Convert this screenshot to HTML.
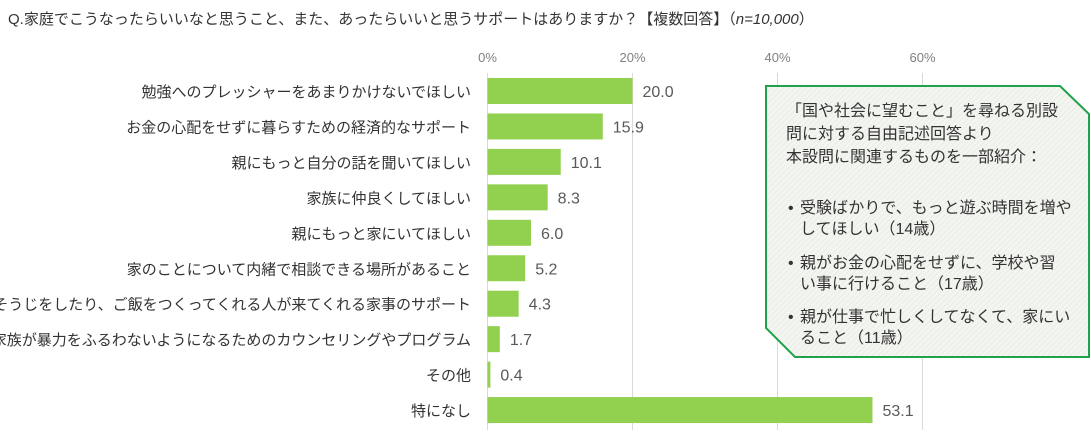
<!DOCTYPE html>
<html><head><meta charset="utf-8"><style>
body{margin:0;background:#fff;width:1091px;height:437px;overflow:hidden;font-family:"Liberation Sans","Noto Sans CJK JP",sans-serif;}
svg text{font-family:"Liberation Sans","Noto Sans CJK JP",sans-serif;}
</style></head><body>
<svg id="chart" width="1091" height="437">
<defs><pattern id="hatch" width="4" height="4" patternUnits="userSpaceOnUse" patternTransform="rotate(45)"><rect width="4" height="4" fill="#f3f5f0"/><line x1="0" y1="0" x2="0" y2="4" stroke="#e2e6dc" stroke-width="1"/></pattern></defs>
<text x="8" y="24" font-size="15" fill="#333">Q.家庭でこうなったらいいなと思うこと、また、あったらいいと思うサポートはありますか？【複数回答】（<tspan font-style="italic">n=10,000</tspan>）</text>
<g id="grid"></g><g id="bars"></g>
<g>
<polygon points="766,86 1060,86 1089,114 1089,357 795,357 766,328" fill="url(#hatch)" stroke="#22a04a" stroke-width="2"/>
<g font-size="16" fill="#333">
<text x="786" y="116">「国や社会に望むこと」を尋ねる別設</text>
<text x="786" y="139">問に対する自由記述回答より</text>
<text x="786" y="162">本設問に関連するものを一部紹介：</text>
<text x="788" y="213">•</text><text x="800" y="213">受験ばかりで、もっと遊ぶ時間を増や</text>
<text x="800" y="234">してほしい（14歳）</text>
<text x="788" y="268">•</text><text x="800" y="268">親がお金の心配をせずに、学校や習</text>
<text x="800" y="289">い事に行けること（17歳）</text>
<text x="788" y="322">•</text><text x="800" y="322">親が仕事で忙しくしてなくて、家にい</text>
<text x="800" y="343">ること（11歳）</text>
</g></g>
</svg>
<script>
const categories=["勉強へのプレッシャーをあまりかけないでほしい","お金の心配をせずに暮らすための経済的なサポート","親にもっと自分の話を聞いてほしい","家族に仲良くしてほしい","親にもっと家にいてほしい","家のことについて内緒で相談できる場所があること","そうじをしたり、ご飯をつくってくれる人が来てくれる家事のサポート","家族が暴力をふるわないようになるためのカウンセリングやプログラム","その他","特になし"];
const values=[20.0,15.9,10.1,8.3,6.0,5.2,4.3,1.7,0.4,53.1];
const ticks=[0,20,40,60];
const NS="http://www.w3.org/2000/svg";
const x=v=>487.5+v*7.25;
const y=i=>91+i*35.45;
function mk(t,a,p){const e=document.createElementNS(NS,t);for(const k in a)e.setAttribute(k,a[k]);p.appendChild(e);return e;}
const g=document.getElementById('grid'),b=document.getElementById('bars');
ticks.forEach(t=>{
 const l=mk('line',{x1:x(t),x2:x(t),y1:73,y2:430,stroke:'#d9d9d9','stroke-width':1},g);
 
 
 const tx=mk('text',{x:x(t),y:62,'font-size':13,fill:'#808080','text-anchor':'middle'},g);
 tx.textContent=t+'%';
 
 
});
categories.forEach((c,i)=>{
 const lb=mk('text',{x:471,y:y(i)+6,'font-size':15,fill:'#333','text-anchor':'end'},b);
 lb.textContent=c;
 
 
 const r=mk('rect',{x:x(0),y:y(i)-13,width:x(values[i])-x(0),height:26,fill:'#92d050'},b);
 
 
 const v=mk('text',{x:x(values[i])+10,y:y(i)+6,'font-size':16,fill:'#595959'},b);
 v.textContent=values[i].toFixed(1);
 
 
});
</script>
</body></html>
